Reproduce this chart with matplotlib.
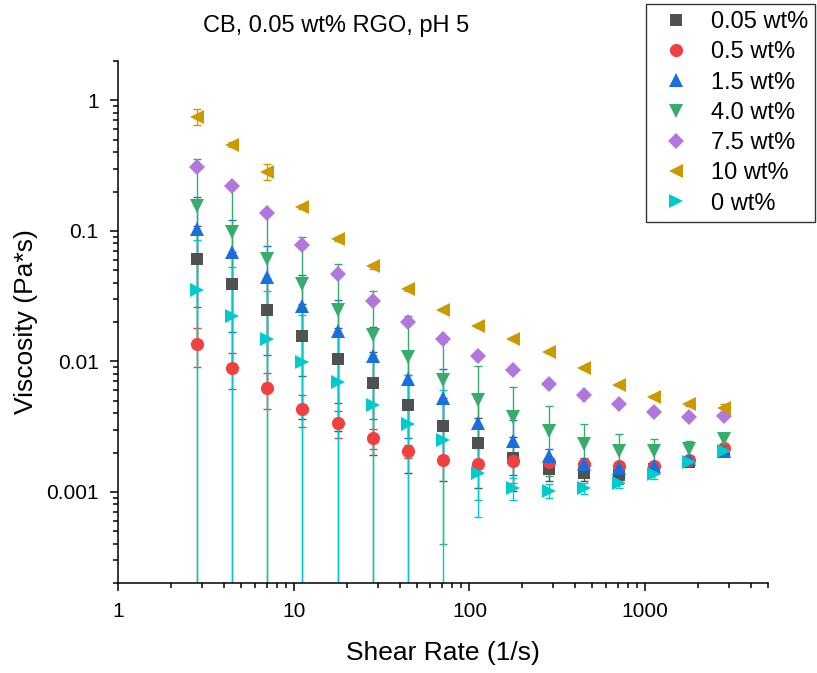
import numpy as np
import matplotlib
matplotlib.use('Agg')
import matplotlib.pyplot as plt
from matplotlib.ticker import LogLocator, FuncFormatter, NullFormatter

plt.rcParams['font.family'] = ['Liberation Sans', 'DejaVu Sans']

# shear rate (1/s)
shear = [2.82, 4.47, 7.08, 11.2, 17.8, 28.2, 44.7, 70.8, 112, 178, 282, 447, 708, 1122, 1778, 2818]

labels = ['0.05 wt%', '0.5 wt%', '1.5 wt%', '4.0 wt%', '7.5 wt%', '10 wt%', '0 wt%']

# viscosity (Pa*s) and error
v005 = [0.061, 0.0388, 0.0248, 0.0155, 0.0105, 0.0068, 0.0046, 0.0032, 0.00237, 0.00182, 0.0015, 0.0014, 0.00135, 0.0015, 0.0017, 0.00205]
e005 = [0.047, 0.03, 0.018, 0.0119, 0.0076, 0.0049, 0.0032, 0.002, 0.0013, 0.0008, 0.0003, 0.0002, 0.0002, 0.0001, 0.0001, 0.0001]

v05 = [0.01356, 0.00886, 0.00622, 0.00433, 0.00338, 0.00259, 0.00205, 0.00174, 0.00162, 0.00172, 0.00168, 0.00162, 0.00157, 0.00157, 0.00174, 0.00215]
e05 = [0.0045, 0.0027, 0.0019, 0.0012, 0.0008, 0.00045, 0.00025, 0.0001, 0.0001, 0.0001, 0.0001, 0.0001, 0.0001, 0.0001, 0.0001, 0.0001]

v15 = [0.104, 0.0687, 0.0441, 0.0267, 0.0172, 0.011, 0.0073, 0.00527, 0.00338, 0.00245, 0.00187, 0.00162, 0.00151, 0.00157, 0.00177, 0.00207]
e15 = [0.078, 0.052, 0.033, 0.019, 0.0124, 0.0074, 0.0047, 0.0035, 0.002, 0.0011, 0.00025, 0.0002, 0.00015, 0.0001, 0.0001, 0.0001]

v40 = [0.155, 0.098, 0.061, 0.0392, 0.0245, 0.016, 0.0107, 0.0072, 0.00506, 0.00376, 0.00292, 0.00233, 0.00205, 0.00204, 0.00213, 0.00252]
e40 = [0.2, 0.126, 0.08, 0.05, 0.031, 0.0184, 0.0117, 0.0068, 0.0042, 0.0026, 0.0016, 0.001, 0.0007, 0.0005, 0.0003, 0.0002]

v75 = [0.306, 0.22, 0.138, 0.0773, 0.0469, 0.0292, 0.0201, 0.0148, 0.011, 0.00855, 0.00675, 0.00552, 0.00473, 0.00409, 0.00376, 0.0038]
e75 = [0.01, 0.006, 0.004, 0.002, 0.0012, 0.0008, 0.0005, 0.0003, 0.0002, 0.0002, 0.0001, 0.0001, 0.0001, 0.0001, 0.0001, 0.0001]

v10 = [0.75, 0.455, 0.283, 0.152, 0.087, 0.0533, 0.0359, 0.0248, 0.01875, 0.0147, 0.0117, 0.00886, 0.00659, 0.00537, 0.00468, 0.00441]
e10 = [0.1, 0.02, 0.04, 0.006, 0.003, 0.002, 0.0012, 0.0005, 0.0003, 0.0002, 0.0002, 0.0001, 0.0001, 0.0001, 0.0001, 0.0003]

v0 = [0.0353, 0.0221, 0.0148, 0.0099, 0.00695, 0.00463, 0.00329, 0.00248, 0.0014, 0.00107, 0.00102, 0.00106, 0.00116, 0.00136, 0.00168, 0.00207]
e0 = [0.05, 0.031, 0.02, 0.0128, 0.0087, 0.0065, 0.0046, 0.0035, 0.00076, 0.0002, 0.00012, 0.0001, 0.0001, 0.0001, 0.0001, 0.0001]

values = [v005, v05, v15, v40, v75, v10, v0]
errors = [e005, e05, e15, e40, e75, e10, e0]
colors = ['#515151', '#F14040', '#1A6FDF', '#37AD6B', '#B177DE', '#CC9900', '#00CBCC']
markers = ['s', 'o', '^', 'v', 'D', '<', '>']
sizes = [8.5, 9.5, 10.5, 10.5, 7.8, 10.5, 10.5]

fig = plt.figure(figsize=(8.17, 6.73), dpi=100)
ax = fig.add_axes([118/817, 1 - 583/673, 650/817, 522/673])

for v, e, c, m, s, lab in zip(values, errors, colors, markers, sizes, labels):
    ax.errorbar(shear, v, yerr=e, fmt='none', ecolor=c, elinewidth=1.0,
                capsize=3, capthick=1.0, zorder=1)
    ax.plot(shear, v, linestyle='none', marker=m, ms=s, color=c,
            markeredgewidth=0, label=lab, zorder=3)

ax.set_xscale('log')
ax.set_yscale('log')
ax.set_xlim(1, 5000)
ax.set_ylim(2e-4, 2)

ax.xaxis.set_major_locator(LogLocator(base=10, numticks=10))
ax.yaxis.set_major_locator(LogLocator(base=10, numticks=10))
ax.xaxis.set_minor_locator(LogLocator(base=10, subs=np.arange(2, 10), numticks=20))
ax.yaxis.set_minor_locator(LogLocator(base=10, subs=np.arange(2, 10), numticks=20))
fmt = FuncFormatter(lambda x, p: '{:g}'.format(x))
ax.xaxis.set_major_formatter(fmt)
ax.yaxis.set_major_formatter(fmt)
ax.xaxis.set_minor_formatter(NullFormatter())
ax.yaxis.set_minor_formatter(NullFormatter())

for side in ['top', 'right']:
    ax.spines[side].set_visible(False)
for side in ['left', 'bottom']:
    ax.spines[side].set_linewidth(1.1)

ax.tick_params(which='major', direction='out', length=6, width=1.1, labelsize=15, pad=8)
ax.tick_params(which='minor', direction='out', length=3.5, width=1.1)

ax.set_xlabel('Shear Rate (1/s)', fontsize=19, labelpad=14)
ax.set_ylabel('Viscosity (Pa*s)', fontsize=19, labelpad=6)

fig.text(336/817, 1 - 26/673, 'CB, 0.05 wt% RGO, pH 5', ha='center', va='center', fontsize=17)

leg = fig.legend(loc='upper right', bbox_to_anchor=(815/817, 1 - 4/673),
                 bbox_transform=fig.transFigure, fontsize=17, frameon=True,
                 fancybox=False, borderpad=0.3, labelspacing=0.35,
                 handlelength=2.0, handletextpad=0.45, borderaxespad=0)
leg.get_frame().set_edgecolor('black')
leg.get_frame().set_linewidth(1.0)

fig.savefig('out.png', dpi=100)
